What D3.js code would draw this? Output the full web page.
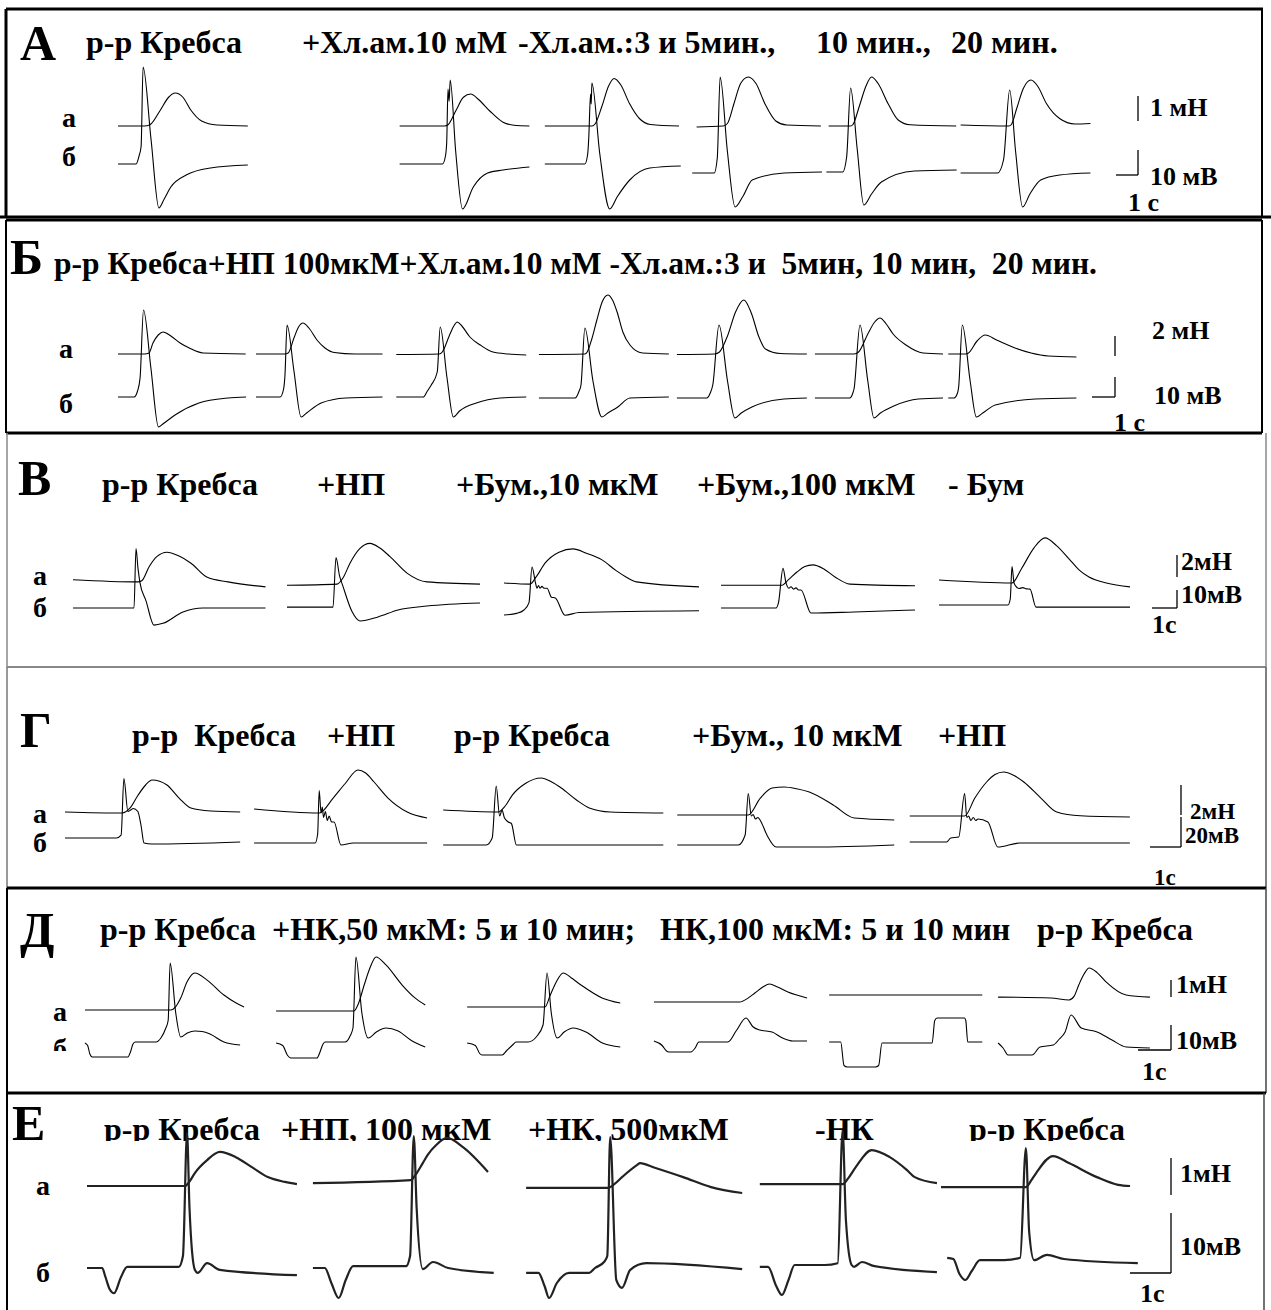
<!DOCTYPE html>
<html>
<head>
<meta charset="utf-8">
<script src="https://cdn.jsdelivr.net/npm/d3@7"></script>
<style>
  body { margin: 0; background: #fff; }
  svg { display: block; }
  text { font-family: "Liberation Serif", "Times New Roman", serif; font-weight: bold; fill: #000; white-space: pre; }
</style>
</head>
<body>
<svg id="chart"></svg>
<script>
// ---- Panel A: titles, sweep starts (s), force (mN) and membrane potential (mV) traces ----
const titlesA = ["р-р Кребса", "+Хл.ам.10 мМ", "-Хл.ам.:3 и 5мин.,", "10 мин.,", "20 мин."];
const startsA = [0, 12.8, 19.4, 26.1, 32.3, 38.3];
const forceA = [
  [[0,0],[1.2,0],[1.45,0.05],[1.9,0.6],[2.3,1.15],[2.6,1.32],[2.95,1.15],[3.3,0.65],[3.8,0.2],[4.5,0.04],[5.9,0]],
  [[0,0],[2.05,0],[2.2,0.05],[2.55,0.6],[2.9,1.15],[3.23,1.28],[3.6,1.05],[4.1,0.6],[4.7,0.15],[5.2,0.03],[5.9,0]],
  [[0,0],[2.15,0],[2.3,0.1],[2.6,0.8],[2.9,1.6],[3.15,1.9],[3.45,1.65],[3.85,0.9],[4.3,0.3],[4.8,0.06],[6.1,0]],
  [[0.2,-0.04],[1.4,0],[1.6,0.1],[1.9,0.9],[2.2,1.7],[2.55,1.96],[2.9,1.7],[3.3,0.9],[3.8,0.2],[4.3,0.04],[5.85,0]],
  [[0,0],[1.0,0],[1.1,0.05],[1.4,0.8],[1.7,1.6],[1.95,1.96],[2.25,1.7],[2.7,0.9],[3.15,0.25],[3.7,0.05],[5.8,0]],
  [[0,0.04],[2.2,0],[2.3,0.05],[2.55,0.7],[2.85,1.5],[3.2,1.84],[3.5,1.6],[3.9,0.9],[4.5,0.3],[5.2,0.08],[5.9,0.1]]
];
const vmA = [
  [[0,0],[0.82,0],[0.95,3],[1.05,7],[1.14,38.8],[1.5,10],[1.86,-17.6],[2.1,-14],[2.4,-9.2],[3.1,-4.4],[4.2,-1.6],[5.9,-0.4]],
  [[0,0],[1.95,0],[2.08,3],[2.14,8.4],[2.2,30],[2.25,25],[2.3,33.6],[2.55,5],[2.86,-18],[3.35,-9.2],[4.0,-3.6],[4.7,-2.4],[5.9,-1.2]],
  [[0,0],[1.82,0],[1.95,4],[2.0,10.8],[2.08,28],[2.11,24],[2.14,32.4],[2.5,4],[2.95,-18],[3.3,-13],[3.86,-6.4],[4.77,-1.6],[6.18,-0.8]],
  [[0,-3.6],[1.0,-3.6],[1.14,2.4],[1.27,34.8],[1.6,5],[1.95,-17.2],[2.3,-13],[2.73,-6.4],[4.18,-3.6],[5.9,-3.2]],
  [[-0.1,-3.2],[0.64,-3.2],[0.82,2.8],[1.0,30.4],[1.3,6],[1.6,-16.4],[1.95,-12],[2.4,-7.2],[3.9,-2.8],[5.82,-2.4]],
  [[0,-3.6],[1.68,-3.6],[1.95,1.6],[2.23,29.6],[2.5,5],[2.82,-17.2],[3.15,-12],[3.64,-6.4],[4.5,-4.4],[5.9,-3.6]]
];
const barsA = [1, 10, 1];
const barLabelsA = ["1 мН", "10 мВ", "1 с"];

// ---- Panel Б ----
const titlesB = ["р-р Кребса+НП 100мкМ+Хл.ам.10 мМ -Хл.ам.:3 и  5мин, 10 мин,  20 мин."];
const startsB = [0, 6.0, 12.1, 18.3, 24.3, 30.3, 36.1];
const forceB = [
  [[0,0],[1.15,0],[1.35,0.1],[1.52,1.1],[1.75,1.9],[1.96,2.2],[2.3,1.8],[2.7,1.1],[3.1,0.6],[3.7,0.1],[5.55,0]],
  [[0,0],[1.25,0],[1.4,0.1],[1.65,1.6],[1.85,2.7],[2.04,3.1],[2.3,2.6],[2.65,1.4],[3.0,0.6],[3.4,0.15],[4.3,0],[5.5,0]],
  [[0,-0.05],[1.87,0],[2.0,0.2],[2.3,1.8],[2.5,2.8],[2.65,3.2],[2.85,2.8],[3.2,1.7],[3.65,0.9],[4.2,0.2],[4.87,0],[5.65,-0.1]],
  [[0,-0.05],[2.0,0],[2.1,0.2],[2.3,1.5],[2.52,3.4],[2.75,5.2],[3.0,5.9],[3.2,5.4],[3.4,4.2],[3.65,2.2],[3.96,0.9],[4.5,0.1],[5.65,0]],
  [[0,-0.05],[1.65,0],[1.85,0.2],[2.2,1.8],[2.55,4.2],[2.91,5.4],[3.25,4.0],[3.55,1.8],[3.85,0.5],[4.5,0.05],[5.65,0]],
  [[0,0],[1.7,0],[1.9,0.2],[2.3,2.0],[2.6,3.2],[2.83,3.6],[3.1,3.0],[3.4,2.0],[3.96,0.9],[4.7,0.1],[5.57,0]],
  [[0,0],[0.75,0],[0.88,0.1],[1.25,1.3],[1.61,1.9],[2.1,1.4],[2.9,0.6],[3.6,0.1],[4.35,-0.2],[5.57,-0.3]]
];
const vmB = [
  [[0,0],[0.7,0],[0.85,3],[0.96,9.5],[1.11,43.5],[1.43,14.5],[1.76,-15],[1.95,-13.5],[2.48,-9],[3.52,-3],[4.78,-0.5],[5.57,0]],
  [[0,0],[1.05,0],[1.2,4],[1.26,11],[1.35,36],[1.65,13],[1.96,-10],[2.2,-8],[2.83,-3],[3.91,-0.5],[5.5,0]],
  [[0,0],[1.17,0],[1.35,3],[1.52,6],[1.78,12.5],[1.91,35],[2.2,10],[2.48,-10],[2.75,-7],[3.48,-3],[4.52,-0.5],[5.65,0]],
  [[0,-0.5],[1.57,-0.5],[1.75,3],[1.83,6],[2.0,34.5],[2.35,8],[2.74,-10],[3.0,-8],[3.43,-5],[3.96,-0.5],[5.65,0]],
  [[0,-0.5],[1.3,-0.5],[1.45,2],[1.56,6],[1.83,36],[2.2,8],[2.52,-10.5],[2.8,-8],[3.26,-5],[4.65,-1],[5.65,-0.5]],
  [[0,-0.5],[1.52,-0.5],[1.65,2],[1.7,4],[1.96,36],[2.3,8],[2.57,-10.5],[2.85,-8],[3.43,-4.5],[4.5,-1],[5.57,-0.5]],
  [[0,-0.5],[0.25,-0.5],[0.4,2],[0.45,5],[0.61,36],[0.95,8],[1.22,-10],[1.5,-8],[2.04,-4],[3.78,-1],[5.57,-0.5]]
];
const barsB = [2, 10, 1];
const barLabelsB = ["2 мН", "10 мВ", "1 с"];

// ---- Panel В ----
const titlesV = ["р-р Кребса", "+НП", "+Бум.,10 мкМ", "+Бум.,100 мкМ", "- Бум"];
const startsV = [0, 8.56, 17.24, 25.92, 34.64];
const forceV = [
  [[0,0.3],[2.6,0.1],[2.75,0.2],[3.05,1.5],[3.35,2.4],[3.76,2.8],[4.2,2.5],[4.72,1.8],[5.35,0.55],[6.2,0.1],[7.7,-0.35]],
  [[0,-0.2],[2.0,-0.1],[2.25,0.5],[2.52,1.8],[2.9,3.1],[3.32,3.6],[3.7,3.2],[4.12,2.4],[4.8,0.9],[5.6,0.1],[7.72,-0.1]],
  [[0,0],[1.04,-0.1],[1.3,0.6],[1.64,1.8],[2.2,2.8],[2.76,3.1],[3.3,2.7],[3.92,2.1],[4.5,1.1],[4.88,0.55],[5.3,0.1],[7.8,-0.35]],
  [[0,-0.2],[2.44,-0.2],[2.7,0.3],[3.04,1.0],[3.35,1.5],[3.68,1.65],[4.1,1.3],[4.56,0.55],[5.16,-0.1],[7.76,-0.25]],
  [[0,0.27],[2.92,0],[3.3,1.3],[3.8,3.2],[4.24,4.1],[4.7,3.4],[5.2,2.2],[5.6,1.2],[6.0,0.55],[6.7,0],[7.64,-0.35]]
];
const vmV = [
  [[0,0],[2.44,0],[2.52,33],[2.6,22],[2.68,14],[2.92,4],[3.24,-9.5],[3.6,-8.5],[4.4,-2.2],[5.2,0],[7.7,0]],
  [[0,0.5],[1.84,0.5],[1.96,28],[2.1,18],[2.24,12],[2.6,-2],[2.92,-7.2],[3.64,-5],[4.44,-1.1],[5.6,1.1],[7.72,2.8]],
  [[0,-3.9],[0.5,-3],[0.8,-1.1],[1.0,3],[1.12,22.8],[1.26,14],[1.32,11],[1.38,12.5],[1.44,11],[1.52,12],[1.6,11],[1.72,11],[1.9,6],[2.05,5.6],[2.44,-4],[3.0,-2.5],[7.8,-1.5]],
  [[0,0],[2.2,0],[2.3,3],[2.48,22],[2.6,14],[2.72,11],[2.8,11.8],[2.9,10.5],[3.0,11.2],[3.1,10],[3.2,10],[3.6,-2.8],[5.32,-2.2],[7.76,-1.1]],
  [[0,1.7],[2.76,1.7],[2.85,5],[2.92,23],[3.0,14],[3.08,12],[3.2,10.8],[3.35,11.3],[3.5,10.6],[3.64,10.5],[3.88,0.5],[7.64,0.5]]
];
const barsV = [2, 10, 1];
const barLabelsV = ["2мН", "10мВ", "1с"];

// ---- Panel Г ----
const titlesG = ["р-р  Кребса", "+НП", "р-р Кребса", "+Бум., 10 мкМ", "+НП"];
const startsG = [0, 6.1, 12.2, 19.75, 27.25];
const forceG = [
  [[0,0],[1.84,-0.07],[2.1,0.27],[2.35,1.1],[2.6,1.8],[2.81,2.13],[3.05,2.05],[3.29,1.8],[3.68,0.93],[4.06,0.27],[4.7,0.07],[5.65,0]],
  [[0,0.2],[2.1,-0.07],[2.55,0.93],[2.94,1.9],[3.35,2.8],[3.6,2.6],[3.87,2.0],[4.32,0.93],[4.94,0],[5.58,-0.4]],
  [[0,0.13],[1.77,0],[2.0,0.4],[2.23,1.13],[2.65,1.9],[3.16,2.27],[3.5,2.0],[3.81,1.6],[4.3,0.8],[4.71,0.27],[5.39,0],[7.1,-0.07]],
  [[0,-0.2],[2.29,-0.2],[2.68,0.93],[3.06,1.6],[3.45,1.67],[3.85,1.55],[4.26,1.33],[5.03,0.47],[5.71,-0.4],[7.0,-0.53]],
  [[0,-0.27],[1.77,-0.27],[2.1,0.93],[2.48,2.0],[2.75,2.5],[3.03,2.67],[3.35,2.45],[3.68,2.0],[4.23,0.93],[4.74,0],[5.5,-0.25],[7.1,-0.33]]
];
const vmG = [
  [[0,3.3],[1.65,3.3],[1.81,5.3],[1.9,43],[2.03,21],[2.12,22],[2.2,23],[2.35,21],[2.45,12],[2.55,0],[2.8,-0.7],[5.65,0.7]],
  [[0,0],[1.97,0],[2.05,6],[2.1,35],[2.16,20],[2.2,24],[2.24,17],[2.3,21],[2.36,15],[2.42,18],[2.5,14],[2.58,14],[2.8,-1.3],[3.2,0],[5.58,0]],
  [[0,-1.3],[1.39,-1.3],[1.58,3.3],[1.71,38],[1.82,18],[1.9,22],[1.97,17],[2.1,14],[2.2,13],[2.36,-1.3],[7.1,-1.3]],
  [[0,-1.3],[1.97,-1.3],[2.19,5.3],[2.29,33],[2.39,18],[2.45,19],[2.52,16],[2.6,17],[2.68,15],[2.9,5],[3.19,-2.7],[4.4,-2.7],[7.0,-1.3]],
  [[0,0.7],[1.19,0.7],[1.32,3.3],[1.58,4],[1.77,33],[1.84,17],[1.9,18],[1.97,15],[2.05,17],[2.13,15],[2.2,16],[2.52,14],[2.84,-2.7],[3.55,0],[7.1,0]]
];
const barsG = [2, 20, 1];
const barLabelsG = ["2мН", "20мВ", "1с"];

// ---- Panel Д ----
const titlesD = ["р-р Кребса", "+НК,50 мкМ: 5 и 10 мин;", "НК,100 мкМ: 5 и 10 мин", "р-р Кребса"];
const startsD = [0, 5.79, 11.58, 17.24, 22.55, 27.67];
const forceD = [
  [[0,0],[2.6,0],[2.75,0.2],[2.9,0.7],[3.09,1.65],[3.33,2.18],[3.7,1.76],[4.21,0.88],[4.58,0.41],[4.82,0.18]],
  [[0,-0.06],[2.36,-0.06],[2.5,0.4],[2.67,1.47],[2.85,2.5],[3.03,3.12],[3.33,2.65],[3.82,1.47],[4.21,0.71],[4.52,0.29]],
  [[0,0.18],[2.36,0.18],[2.52,0.88],[2.7,1.65],[2.91,2.18],[3.15,1.9],[3.45,1.47],[4.09,0.71],[4.64,0.41]],
  [[0,0.47],[2.6,0.47],[2.85,0.7],[3.06,1.0],[3.3,1.35],[3.5,1.53],[3.75,1.35],[4.06,1.06],[4.64,0.71]],
  [[0,0.88],[4.64,0.88]],
  [[0,0.76],[1.6,0.71],[2.15,0.59],[2.3,0.8],[2.45,1.5],[2.6,2.1],[2.76,2.47],[3.0,2.2],[3.27,1.65],[3.88,0.88],[4.6,0.76]]
];
const vmD = [
  [[0,0],[0.08,-1],[0.15,-4.5],[0.22,-5.6],[1.3,-5.6],[1.38,-3.5],[1.45,-0.5],[1.52,0.4],[2.15,0.4],[2.3,2],[2.45,6],[2.52,9],[2.58,32],[2.75,12],[2.9,2.4],[3.1,4],[3.33,4.8],[3.55,4.6],[3.8,3.5],[4.21,0.4],[4.7,-0.8]],
  [[0,0],[0.2,-1],[0.35,-5],[0.45,-6],[1.24,-6],[1.32,-4],[1.42,-0.5],[1.48,0.4],[2.09,0.4],[2.25,3],[2.33,6],[2.42,34.4],[2.6,12],[2.79,2],[3.05,4.5],[3.33,6],[3.7,4.8],[4.1,1],[4.52,-1.6]],
  [[0,0],[0.25,-1],[0.38,-4.2],[0.45,-4.8],[1.06,-4.8],[1.2,-3],[1.4,-0.5],[1.48,0.4],[1.85,0.4],[2.1,2.5],[2.3,7.2],[2.42,28],[2.55,12],[2.73,2],[2.95,4.5],[3.21,6],[3.6,4.4],[4.1,0],[4.64,-1.6]],
  [[0,0.8],[0.25,-1],[0.38,-3.2],[0.45,-3.6],[1.12,-3.6],[1.25,-2],[1.36,0.4],[2.24,0.4],[2.5,5],[2.79,10],[3.0,6.5],[3.21,5.2],[3.58,4.4],[3.9,2],[4.21,0.8],[4.64,0.8]],
  [[0,0.4],[0.35,0.4],[0.45,-9],[0.55,-9.6],[1.4,-9.6],[1.5,-9],[1.6,0],[3.12,0],[3.2,9],[3.27,10],[4.1,10],[4.14,9],[4.2,0.4],[4.64,0.4]],
  [[0,0],[0.15,-2],[0.3,-4.8],[1.03,-4.8],[1.27,-1.6],[1.67,-0.8],[1.85,1.5],[2.03,4.4],[2.21,11.2],[2.52,6],[3.0,4.4],[3.45,1.2],[3.88,-1.6],[4.6,-2]]
];
const barsD = [1, 10, 1];
const barLabelsD = ["1мН", "10мВ", "1с"];

// ---- Panel Е ----
const titlesE = ["р-р Кребса", "+НП, 100 мкМ", "+НК, 500мкМ", "-НК", "р-р Кребса"];
const startsE = [0, 5.51, 10.71, 16.41, 20.83];
const forceE = [
  [[0,0],[2.39,0],[2.5,0.12],[2.63,0.35],[2.93,0.7],[3.24,0.92],[3.63,0.78],[4.02,0.51],[4.41,0.24],[4.83,0.11],[5.12,0.05]],
  [[0,0.08],[2.39,0.16],[2.5,0.3],[2.68,0.62],[2.8,0.84],[3.0,1.1],[3.27,1.3],[3.66,1.05],[4.27,0.38]],
  [[0,-0.05],[2.0,-0.05],[2.15,0.05],[2.34,0.24],[2.71,0.57],[2.78,0.62],[3.12,0.5],[3.83,0.24],[4.51,-0.03],[5.27,-0.19]],
  [[0,0.05],[2.02,0.05],[2.15,0.2],[2.34,0.51],[2.73,0.97],[3.17,0.78],[3.59,0.43],[3.78,0.24],[4.32,0.08]],
  [[0,-0.03],[2.07,-0.03],[2.2,0.15],[2.32,0.35],[2.73,0.81],[3.12,0.62],[3.8,0.24],[4.32,0.03],[4.61,0]]
];
const vmE = [
  [[0,0],[0.37,0],[0.45,-1.5],[0.55,-3.5],[0.66,-4.2],[0.83,-1.5],[0.98,0.2],[2.24,0.2],[2.34,2],[2.44,22.5],[2.5,10],[2.63,-0.3],[2.7,-0.8],[2.93,0.8],[3.24,-0.3],[5.12,-1.2]],
  [[0,0],[0.29,0],[0.45,-2.5],[0.63,-5],[0.8,-2],[0.98,0.3],[2.27,0.3],[2.37,2],[2.46,22],[2.53,10],[2.68,-0.2],[2.93,1],[3.3,0],[4.41,-0.8]],
  [[0,-0.8],[0.3,-0.8],[0.45,-3],[0.56,-5],[0.75,-2.5],[1.05,-0.8],[1.54,-0.8],[1.68,0],[1.9,1],[1.98,2],[2.05,21.8],[2.2,-2],[2.34,-3.3],[2.54,-0.3],[2.93,0.8],[5.27,-0.2]],
  [[0,0.2],[0.2,0.2],[0.4,-3],[0.54,-4.5],[0.7,-2],[0.85,0.5],[1.59,0.5],[1.9,0.8],[2.02,23],[2.1,8],[2.24,0.5],[2.3,0.2],[2.49,1],[2.8,0.3],[4.32,-0.7]],
  [[0.15,1.7],[0.3,1.5],[0.45,-1],[0.59,-2],[0.75,-0.5],[0.95,1.3],[1.54,1.3],[1.93,1.7],[2.07,20],[2.15,6],[2.27,1.3],[2.58,2.2],[3.0,1.5],[4.8,0.8]]
];
const barsE = [1, 10, 1];
const barLabelsE = ["1мН", "10мВ", "1с"];

const rowLabels = ["а", "б"];

// ---- layout (pixels) ----
const W = 1271, H = 1310;
const panels = [
  { letter: "А", lx: 20, ly: 60, titles: titlesA, tx: [86, 302, 518, 816, 951], ty: 53,
    starts: startsA, force: forceA, vm: vmA, bars: barsA, barLabels: barLabelsA, barFont: 26,
    x0: 118, pxS: 22, ya: 126, pxMN: 25, yb: 164, pxMV: 2.5,
    rowX: 62, rowY: [127, 166],
    fBar: [1138, 121], vBar: [1138, 175], labPos: [[1150, 116], [1150, 185], [1128, 211]] },
  { letter: "Б", lx: 10, ly: 274, titles: titlesB, tx: [54], ty: 274, tlen: [1043],
    starts: startsB, force: forceB, vm: vmB, bars: barsB, barLabels: barLabelsB, barFont: 26,
    x0: 118, pxS: 23, ya: 354, pxMN: 10, yb: 397, pxMV: 2,
    rowX: 59, rowY: [358, 413],
    fBar: [1115, 356], vBar: [1115, 397], labPos: [[1152, 339], [1154, 404], [1114, 431]] },
  { letter: "В", lx: 18, ly: 495, titles: titlesV, tx: [102, 317, 456, 697, 948], ty: 495,
    starts: startsV, force: forceV, vm: vmV, bars: barsV, barLabels: barLabelsV, barFont: 26,
    x0: 73, pxS: 25, ya: 583, pxMN: 11, yb: 608, pxMV: 1.8,
    rowX: 33, rowY: [585, 617],
    fBar: [1177, 577], vBar: [1177, 608], labPos: [[1181, 570], [1181, 603], [1152, 633]] },
  { letter: "Г", lx: 20, ly: 747, titles: titlesG, tx: [132, 327, 454, 692, 938], ty: 746,
    starts: startsG, force: forceG, vm: vmG, bars: barsG, barLabels: barLabelsG, barFont: 23,
    x0: 65, pxS: 31, ya: 812, pxMN: 15, yb: 843, pxMV: 1.5,
    rowX: 33, rowY: [823, 852],
    fBar: [1181, 815], vBar: [1181, 847], labPos: [[1190, 819], [1185, 843], [1154, 885]] },
  { letter: "Д", lx: 20, ly: 947, titles: titlesD, tx: [100, 272, 660, 1037], ty: 940,
    starts: startsD, force: forceD, vm: vmD, bars: barsD, barLabels: barLabelsD, barFont: 26,
    x0: 85, pxS: 33, ya: 1010, pxMN: 17, yb: 1043, pxMV: 2.5,
    rowX: 53, rowY: [1021, 1058], rowClip: 1051,
    fBar: [1171, 997], vBar: [1171, 1050], labPos: [[1176, 993], [1176, 1049], [1142, 1080]] },
  { letter: "Е", lx: 12, ly: 1140, titles: titlesE, tx: [104, 281, 528, 815, 969], ty: 1140, titleClip: 1141,
    starts: startsE, force: forceE, vm: vmE, bars: barsE, barLabels: barLabelsE, barFont: 26,
    x0: 87, pxS: 41, ya: 1186, pxMN: 37, yb: 1268, pxMV: 6,
    rowX: 36, rowY: [1195, 1282], thick: true,
    fBar: [1171, 1195], vBar: [1171, 1273], labPos: [[1180, 1182], [1180, 1255], [1140, 1302]] }
];

// frame lines: [x1, y1, x2, y2, colour, width]
const frames = [
  [6, 9, 1263, 9, "#000", 3], [6, 9, 6, 218, "#000", 3], [1262, 9, 1262, 218, "#000", 2], [0, 217, 1271, 217, "#000", 3],
  [6, 220, 1262, 220, "#000", 3], [6, 220, 6, 433, "#000", 2], [1262, 220, 1262, 433, "#000", 2], [6, 433, 1262, 433, "#000", 3],
  [7, 433, 7, 667, "#888", 1.5], [1266, 433, 1266, 667, "#888", 1.5], [7, 667, 1266, 667, "#888", 2],
  [7, 667, 7, 888, "#777", 1.5], [1266, 667, 1266, 888, "#555", 1.5], [7, 888, 1266, 888, "#000", 3],
  [7, 888, 7, 1093, "#000", 2], [1266, 888, 1266, 1093, "#444", 1.5], [7, 1093, 1266, 1093, "#000", 3],
  [7, 1093, 7, 1310, "#000", 2], [1264, 1093, 1264, 1310, "#444", 1.5]
];

const svg = d3.select("#chart").attr("width", W).attr("height", H);
svg.append("rect").attr("width", W).attr("height", H).attr("fill", "#fff");

svg.selectAll("line.frame")
  .data(frames)
  .enter()
  .append("line")
  .attr("class", "frame")
  .attr("x1", d => d[0]).attr("y1", d => d[1])
  .attr("x2", d => d[2]).attr("y2", d => d[3])
  .attr("stroke", d => d[4])
  .attr("stroke-width", d => d[5]);

const defs = svg.append("defs");

function drawPanel(p, i) {
  const g = svg.append("g").attr("class", "panel");

  // time and amplitude scales: 1 s, 1 mN, 1 mV
  const x = d3.scaleLinear().domain([0, 1]).range([p.x0, p.x0 + p.pxS]);
  const yF = d3.scaleLinear().domain([0, 1]).range([p.ya, p.ya - p.pxMN]);
  const yV = d3.scaleLinear().domain([0, 1]).range([p.yb, p.yb - p.pxMV]);

  // big panel letter
  g.append("text")
    .attr("x", p.lx).attr("y", p.ly)
    .style("font-size", "50px")
    .text(p.letter);

  // condition titles
  let tg = g.append("g");
  if (p.titleClip) {
    defs.append("clipPath").attr("id", "tclip" + i)
      .append("rect").attr("x", 0).attr("y", 0).attr("width", W).attr("height", p.titleClip);
    tg.attr("clip-path", `url(#tclip${i})`);
  }
  p.titles.forEach((t, k) => {
    const el = tg.append("text")
      .attr("x", p.tx[k]).attr("y", p.ty)
      .style("font-size", "32px")
      .text(t);
    if (p.tlen) el.attr("textLength", p.tlen[k]).attr("lengthAdjust", "spacingAndGlyphs");
  });

  // row labels а / б
  let rg = g.append("g");
  if (p.rowClip) {
    defs.append("clipPath").attr("id", "rclip" + i)
      .append("rect").attr("x", 0).attr("y", 0).attr("width", W).attr("height", p.rowClip);
    rg.attr("clip-path", `url(#rclip${i})`);
  }
  rowLabels.forEach((t, k) => {
    rg.append("text")
      .attr("x", p.rowX).attr("y", p.rowY[k])
      .style("font-size", "28px")
      .text(t);
  });

  // traces
  const sw = p.thick ? 2.2 : 1.1;
  const col = p.thick ? "#222" : "#000";
  p.starts.forEach((s, k) => {
    const lineF = d3.line()
      .x(d => x(s + d[0])).y(d => yF(d[1]))
      .curve(d3.curveMonotoneX);
    const lineV = d3.line()
      .x(d => x(s + d[0])).y(d => yV(d[1]))
      .curve(d3.curveMonotoneX);
    g.append("path").attr("d", lineF(p.force[k]))
      .attr("fill", "none").attr("stroke", col).attr("stroke-width", sw);
    g.append("path").attr("d", lineV(p.vm[k]))
      .attr("fill", "none").attr("stroke", col).attr("stroke-width", sw);
  });

  // scale bars
  const fLen = yF(0) - yF(p.bars[0]);
  const vLen = yV(0) - yV(p.bars[1]);
  const tLen = x(p.bars[2]) - x(0);
  const bar = g.append("g").attr("stroke", "#000").attr("stroke-width", 1.3);
  bar.append("line")
    .attr("x1", p.fBar[0]).attr("x2", p.fBar[0])
    .attr("y1", p.fBar[1]).attr("y2", p.fBar[1] - fLen);
  bar.append("line")
    .attr("x1", p.vBar[0]).attr("x2", p.vBar[0])
    .attr("y1", p.vBar[1]).attr("y2", p.vBar[1] - vLen);
  bar.append("line")
    .attr("x1", p.vBar[0] - tLen).attr("x2", p.vBar[0])
    .attr("y1", p.vBar[1]).attr("y2", p.vBar[1]);

  p.barLabels.forEach((t, k) => {
    g.append("text")
      .attr("x", p.labPos[k][0]).attr("y", p.labPos[k][1])
      .style("font-size", p.barFont + "px")
      .text(t);
  });
}

panels.forEach(drawPanel);
</script>
</body>
</html>
